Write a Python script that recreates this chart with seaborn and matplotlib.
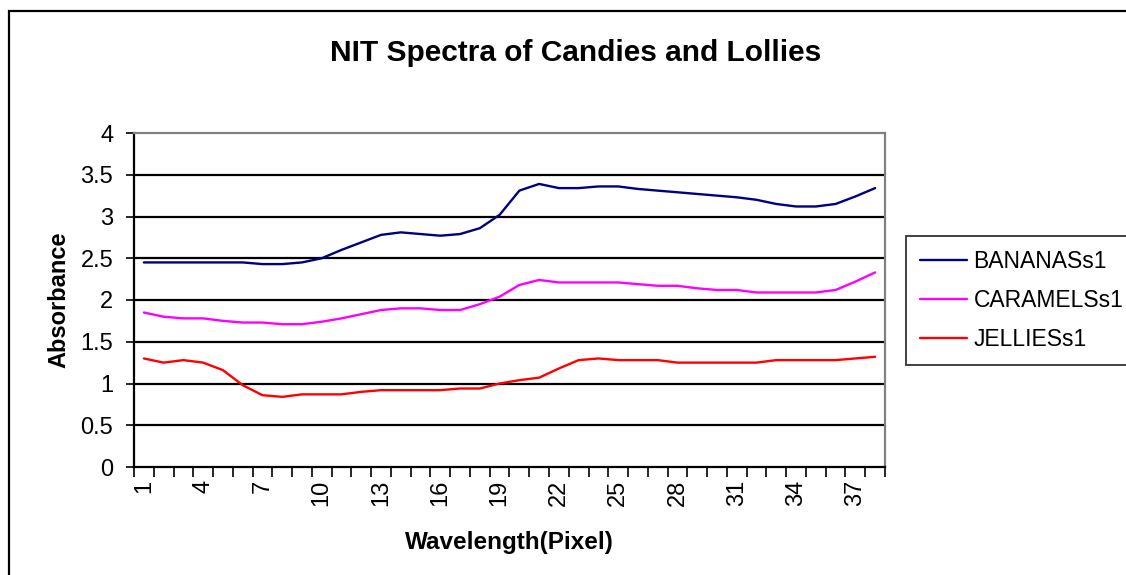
import matplotlib
matplotlib.use("Agg")
import matplotlib.pyplot as plt
from matplotlib.patches import Rectangle
import numpy as np
import seaborn as sns
import pandas as pd

sns.set_theme(style="white")
plt.rcParams['font.family'] = ['Liberation Sans', 'DejaVu Sans']
plt.rcParams['text.color'] = 'black'
plt.rcParams['axes.labelcolor'] = 'black'
plt.rcParams['xtick.color'] = 'black'
plt.rcParams['ytick.color'] = 'black'

# wavelength pixel index (category axis)
pixels = list(range(1, 39))

bananas = [2.45, 2.45, 2.45, 2.45, 2.45, 2.45, 2.43, 2.43, 2.45, 2.50,
           2.60, 2.69, 2.78, 2.81, 2.79, 2.77, 2.79, 2.86, 3.02, 3.31,
           3.39, 3.34, 3.34, 3.36, 3.36, 3.33, 3.31, 3.29, 3.27, 3.25,
           3.23, 3.20, 3.15, 3.12, 3.12, 3.15, 3.24, 3.34]
caramels = [1.85, 1.80, 1.78, 1.78, 1.75, 1.73, 1.73, 1.71, 1.71, 1.74,
            1.78, 1.83, 1.88, 1.90, 1.90, 1.88, 1.88, 1.95, 2.04, 2.18,
            2.24, 2.21, 2.21, 2.21, 2.21, 2.19, 2.17, 2.17, 2.14, 2.12,
            2.12, 2.09, 2.09, 2.09, 2.09, 2.12, 2.22, 2.33]
jellies = [1.30, 1.25, 1.28, 1.25, 1.16, 0.98, 0.86, 0.84, 0.87, 0.87,
           0.87, 0.90, 0.92, 0.92, 0.92, 0.92, 0.94, 0.94, 1.00, 1.04,
           1.07, 1.18, 1.28, 1.30, 1.28, 1.28, 1.28, 1.25, 1.25, 1.25,
           1.25, 1.25, 1.28, 1.28, 1.28, 1.28, 1.30, 1.32]

series_names = ["BANANASs1", "CARAMELSs1", "JELLIESs1"]
colors = {"BANANASs1": "#000080", "CARAMELSs1": "#FF00FF", "JELLIESs1": "#FF0000"}

df = pd.DataFrame({
    "Wavelength(Pixel)": pixels * 3,
    "Absorbance": bananas + caramels + jellies,
    "Series": [s for s in series_names for _ in pixels],
})

fig = plt.figure(figsize=(11.26, 5.75), dpi=100)
ax = fig.add_axes([134 / 1126, 1 - 467 / 575, (885 - 134) / 1126, (467 - 133) / 575])

sns.lineplot(data=df, x="Wavelength(Pixel)", y="Absorbance", hue="Series",
             hue_order=series_names, palette=colors, linewidth=1.7, ax=ax,
             errorbar=None)

ax.set_xlim(0.5, 38.5)
ax.set_ylim(0, 4)

# gridlines (black) inside plot area
for yv in np.arange(0.5, 4.0, 0.5):
    ax.axhline(yv, color="black", lw=1.6, zorder=0)

yt = np.arange(0, 4.01, 0.5)
ax.set_yticks(yt)
ax.set_yticklabels([f"{v:g}" for v in yt], fontsize=17)
ax.tick_params(axis="y", direction="out", length=6, width=1.2, pad=9, left=True, color="black")

ax.set_xticks(pixels[::3])
ax.set_xticklabels([str(p) for p in pixels[::3]], rotation=90, fontsize=17)
ax.set_xticks(np.arange(0.5, 38.6, 1), minor=True)
ax.tick_params(axis="x", which="major", length=0, pad=9)
ax.tick_params(axis="x", which="minor", direction="out", length=7, width=1.2, bottom=True, color="black")

for side in ["left", "bottom"]:
    ax.spines[side].set_color("black")
    ax.spines[side].set_linewidth(1.6)
for side in ["top", "right"]:
    ax.spines[side].set_color("#808080")
    ax.spines[side].set_linewidth(1.6)

ax.set_xlabel("Wavelength(Pixel)", fontsize=17.5, fontweight="bold", labelpad=18)
ax.set_ylabel("Absorbance", fontsize=17, fontweight="bold", labelpad=7)

fig.text(576 / 1126, 1 - 53 / 575, "NIT Spectra of Candies and Lollies",
         ha="center", va="center", fontsize=21.5, fontweight="bold")

ax.legend(loc="upper left", bbox_to_anchor=(906 / 1126, 1 - 236 / 575),
          bbox_transform=fig.transFigure, fontsize=16.5, frameon=True,
          fancybox=False, edgecolor="black", handlelength=2.05,
          handletextpad=0.3, borderpad=0.6, labelspacing=0.7, borderaxespad=0)
leg = ax.get_legend()
leg.get_frame().set_linewidth(1.3)
for line in leg.get_lines():
    line.set_linewidth(1.7)

# outer chart border
fig.patches.append(Rectangle((9 / 1126, -0.1), 1.2, 1 - 11 / 575 + 0.1,
                             transform=fig.transFigure, fill=False,
                             edgecolor="black", lw=1.6))

fig.savefig("out.png", dpi=100)
